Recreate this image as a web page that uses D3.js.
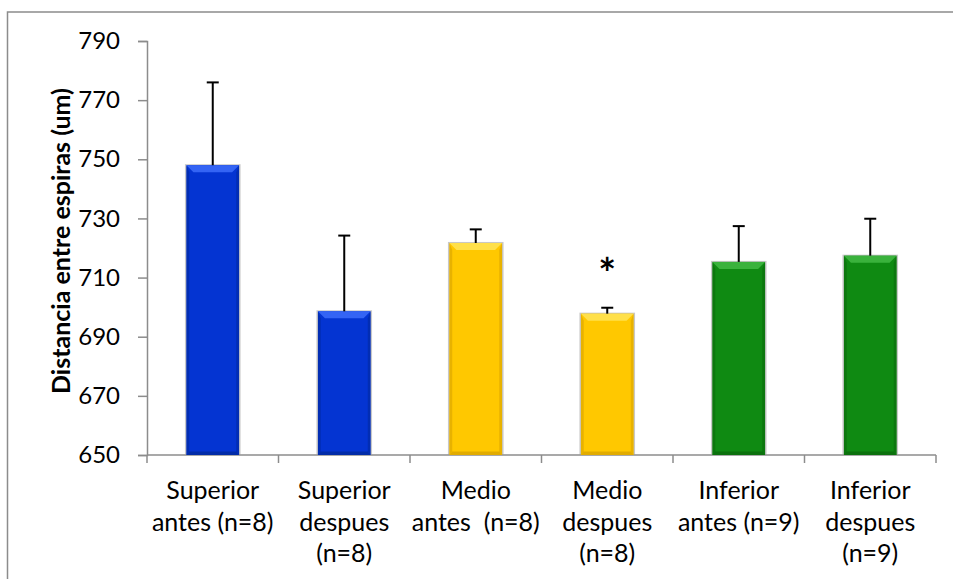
<!DOCTYPE html>
<html>
<head>
<meta charset="utf-8">
<script src="https://cdn.jsdelivr.net/npm/d3@7"></script>
<style>
  html, body { margin: 0; padding: 0; background: #fff; }
  svg { display: block; font-family: Lato, "Open Sans", sans-serif; }
  text { white-space: pre; }
</style>
</head>
<body>
<svg id="chart" width="953" height="579"></svg>
<script>
// Mean distance between coils (um), by segment, before / after
const categories = [
  ["Superior", "antes (n=8)"],
  ["Superior", "despues", "(n=8)"],
  ["Medio", "antes  (n=8)"],
  ["Medio", "despues", "(n=8)"],
  ["Inferior", "antes (n=9)"],
  ["Inferior", "despues", "(n=9)"]
];
const means  = [748.0, 698.6, 721.7, 697.8, 715.3, 717.4];
const errors = [28.0, 25.6, 4.6, 2.0, 12.1, 12.5];
const groups = ["superior", "superior", "medio", "medio", "inferior", "inferior"];
const marks  = ["", "", "", "*", "", ""];
const yTicks = [650, 670, 690, 710, 730, 750, 770, 790];

const palette = {
  superior: { base: "#0434d2", light: "#3464f4", dark: "#022a9e" },
  medio:    { base: "#ffc800", light: "#ffe04a", dark: "#d9a400" },
  inferior: { base: "#0f8a12", light: "#3ab23c", dark: "#0a6a0c" }
};

const svg = d3.select("#chart");
const plotLeft = 147, plotRight = 936, plotTop = 41, plotBottom = 455;

const keys = categories.map((c, i) => "c" + i);
const x = d3.scaleBand().domain(keys).range([plotLeft, plotRight]).paddingInner(0.6).paddingOuter(0.3);
const y = d3.scaleLinear().domain([650, 790]).range([plotBottom, plotTop]);

// outer frame
svg.append("rect")
  .attr("x", 7.5).attr("y", 12).attr("width", 960).attr("height", 600)
  .attr("fill", "none").attr("stroke", "#8c8c8c").attr("stroke-width", 1.5);

// y axis
const yAxis = svg.append("g")
  .attr("transform", `translate(${plotLeft},0)`)
  .call(d3.axisLeft(y).tickValues(yTicks).tickSize(9).tickPadding(18).tickFormat(d3.format("d")));
yAxis.select(".domain").attr("stroke", "#8c8c8c").attr("stroke-width", 1.5);
yAxis.selectAll(".tick line").attr("stroke", "#8c8c8c").attr("stroke-width", 1.5);
yAxis.selectAll(".tick text").attr("font-size", 24).attr("fill", "#000")
  .attr("font-family", "Lato, sans-serif");

// x axis line and boundary ticks
const step = x.step();
const xg = svg.append("g");
xg.append("line").attr("x1", plotLeft).attr("x2", plotRight).attr("y1", plotBottom).attr("y2", plotBottom)
  .attr("stroke", "#8c8c8c").attr("stroke-width", 1.5);
xg.selectAll("line.bt").data(d3.range(categories.length + 1)).join("line")
  .attr("class", "bt")
  .attr("x1", i => plotLeft + i * step).attr("x2", i => plotLeft + i * step)
  .attr("y1", plotBottom).attr("y2", plotBottom + 8)
  .attr("stroke", "#8c8c8c").attr("stroke-width", 1.5);

// category labels
const lab = svg.append("g").selectAll("text").data(categories).join("text")
  .attr("text-anchor", "middle").attr("font-size", 25).attr("fill", "#000")
  .attr("x", (d, i) => x(keys[i]) + x.bandwidth() / 2)
  .attr("y", 499);
lab.selectAll("tspan").data(d => d).join("tspan")
  .attr("x", function () { return this.parentNode.getAttribute("x"); })
  .attr("dy", (d, j) => j === 0 ? 0 : 31.5)
  .text(d => d);

// axis title
svg.append("text")
  .attr("transform", `translate(70,${(plotTop + plotBottom) / 2 - 7}) rotate(-90)`)
  .attr("text-anchor", "middle").attr("font-size", 25).attr("font-weight", "bold")
  .attr("fill", "#000")
  .text("Distancia entre espiras (um)");

// bars with bevelled edges
const bw = x.bandwidth();
const bev = 7;
const bars = svg.append("g").selectAll("g").data(means).join("g")
  .attr("transform", (d, i) => `translate(${x(keys[i])},${y(d)})`);

bars.append("rect")
  .attr("x", -1.5).attr("y", -1).attr("width", bw + 3).attr("height", d => plotBottom - y(d) + 1)
  .attr("fill", "#9a9a9a").attr("opacity", 0.55);
bars.append("rect")
  .attr("width", bw).attr("height", d => plotBottom - y(d))
  .attr("fill", (d, i) => palette[groups[i]].base);
// side and bottom shading
bars.append("polygon")
  .attr("points", d => { const h = plotBottom - y(d); return `0,0 ${bev*0.4},${bev} ${bev*0.4},${h-bev*0.5} 0,${h}`; })
  .attr("fill", (d, i) => palette[groups[i]].dark).attr("opacity", 0.6);
bars.append("polygon")
  .attr("points", d => { const h = plotBottom - y(d); return `${bw},0 ${bw-bev*0.4},${bev} ${bw-bev*0.4},${h-bev*0.5} ${bw},${h}`; })
  .attr("fill", (d, i) => palette[groups[i]].dark).attr("opacity", 0.6);
bars.append("polygon")
  .attr("points", d => { const h = plotBottom - y(d); return `0,${h} ${bev*0.4},${h-bev*0.5} ${bw-bev*0.4},${h-bev*0.5} ${bw},${h}`; })
  .attr("fill", (d, i) => palette[groups[i]].dark).attr("opacity", 0.8);
// top bevel
bars.append("polygon")
  .attr("points", `0,0 ${bw},0 ${bw-bev},${bev} ${bev},${bev}`)
  .attr("fill", (d, i) => palette[groups[i]].light);

// error bars (upper only)
const eb = svg.append("g").selectAll("g").data(means).join("g");
eb.append("line")
  .attr("x1", (d, i) => x(keys[i]) + bw / 2).attr("x2", (d, i) => x(keys[i]) + bw / 2)
  .attr("y1", d => y(d)).attr("y2", (d, i) => y(d + errors[i]))
  .attr("stroke", "#000").attr("stroke-width", 2);
eb.append("line")
  .attr("x1", (d, i) => x(keys[i]) + bw / 2 - 6).attr("x2", (d, i) => x(keys[i]) + bw / 2 + 6)
  .attr("y1", (d, i) => y(d + errors[i])).attr("y2", (d, i) => y(d + errors[i]))
  .attr("stroke", "#000").attr("stroke-width", 2);

// significance marks
svg.append("g").selectAll("text").data(marks).join("text")
  .attr("x", (d, i) => x(keys[i]) + bw / 2)
  .attr("y", (d, i) => y(means[i] + errors[i]) - 19)
  .attr("text-anchor", "middle").attr("font-size", 42).attr("font-weight", "bold")
  .attr("fill", "#000")
  .text(d => d);
</script>
</body>
</html>
